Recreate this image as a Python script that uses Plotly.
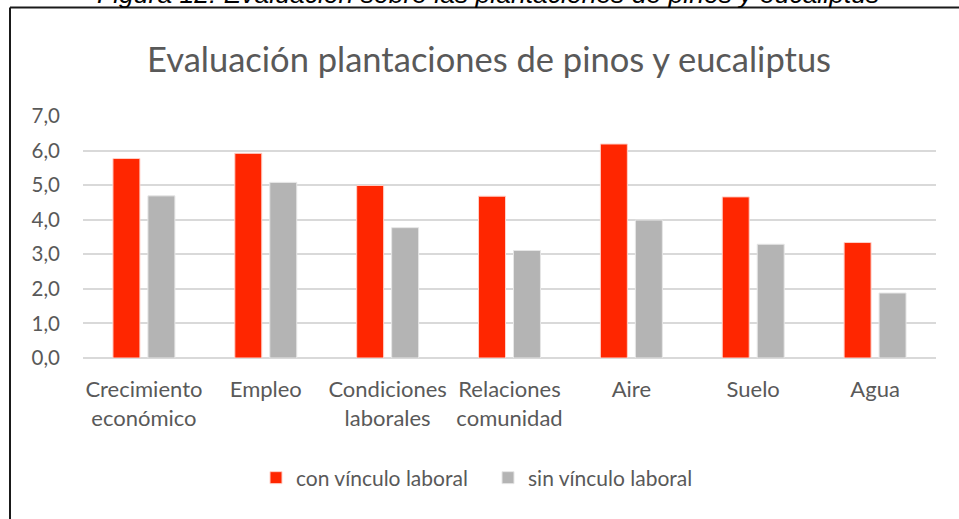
import plotly.graph_objects as go

categories = ["Crecimiento<br>económico", "Empleo", "Condiciones<br>laborales",
              "Relaciones<br>comunidad", "Aire", "Suelo", "Agua"]
con_vinculo = [5.77, 5.92, 4.99, 4.68, 6.19, 4.66, 3.34]
sin_vinculo = [4.69, 5.08, 3.77, 3.11, 3.99, 3.29, 1.88]

font_main = "Lato, Liberation Sans, sans-serif"
grey_text = "#595959"

fig = go.Figure()
fig.add_trace(go.Bar(x=categories, y=con_vinculo, name="con vínculo laboral",
                     marker=dict(color="#FF2600", line=dict(color="#FFD0C8", width=1))))
fig.add_trace(go.Bar(x=categories, y=sin_vinculo, name="sin vínculo laboral",
                     marker=dict(color="#B4B4B4", line=dict(color="#E6E6E6", width=1))))

# plot area: x 83..936, y 116..358 (pixels)
def px_x(p):
    return (p - 83) / 853

def px_y(p):
    return (358 - p) / 242

fig.update_layout(
    width=959, height=519,
    margin=dict(l=83, r=23, t=116, b=161),
    paper_bgcolor="white", plot_bgcolor="white",
    separators=",.",
    bargap=0.426, bargroupgap=0.229,
    font=dict(family=font_main, color=grey_text, size=21),
    title=dict(text="Evaluación plantaciones de pinos y eucaliptus",
               x=0.51, xanchor="center", y=0.885, yanchor="middle",
               font=dict(size=34.5, color=grey_text, family=font_main)),
    legend=dict(orientation="h", x=px_x(256), xanchor="left", y=px_y(478), yanchor="middle",
                font=dict(size=21, color=grey_text), entrywidth=187, entrywidthmode="pixels",
                traceorder="normal"),
    showlegend=True,
)
fig.update_yaxes(range=[0, 7], dtick=1, tickformat=".1f", showgrid=True,
                 gridcolor="#D9D9D9", gridwidth=1.5, zeroline=True,
                 zerolinecolor="#D9D9D9", zerolinewidth=1.5, showline=False,
                 tickfont=dict(size=20.5, color=grey_text), ticks="", ticklabelstandoff=22)
fig.update_xaxes(showline=False, ticks="", tickfont=dict(size=22, color=grey_text),
                 tickangle=0, ticklabelstandoff=16)

# frame around the chart (only top and left edges fall inside the picture)
fig.add_shape(type="line", xref="paper", yref="paper",
              x0=px_x(10), x1=px_x(980), y0=px_y(7.5), y1=px_y(7.5),
              line=dict(color="#1a1a1a", width=2))
fig.add_shape(type="line", xref="paper", yref="paper",
              x0=px_x(10), x1=px_x(10), y0=px_y(7.5), y1=px_y(540),
              line=dict(color="#1a1a1a", width=2))

# cut-off figure caption at the top
fig.add_annotation(text="<i>Figura 12: Evaluación sobre las plantaciones de pinos y eucaliptus</i>",
                   xref="paper", yref="paper", x=px_x(488), xanchor="center",
                   y=px_y(-6), yanchor="middle", showarrow=False,
                   font=dict(family="Liberation Sans, Arial, sans-serif", size=26.5, color="#000000"))

fig.write_html("out.html", config={"displayModeBar": False},
               post_script="document.body.style.margin='0';")
